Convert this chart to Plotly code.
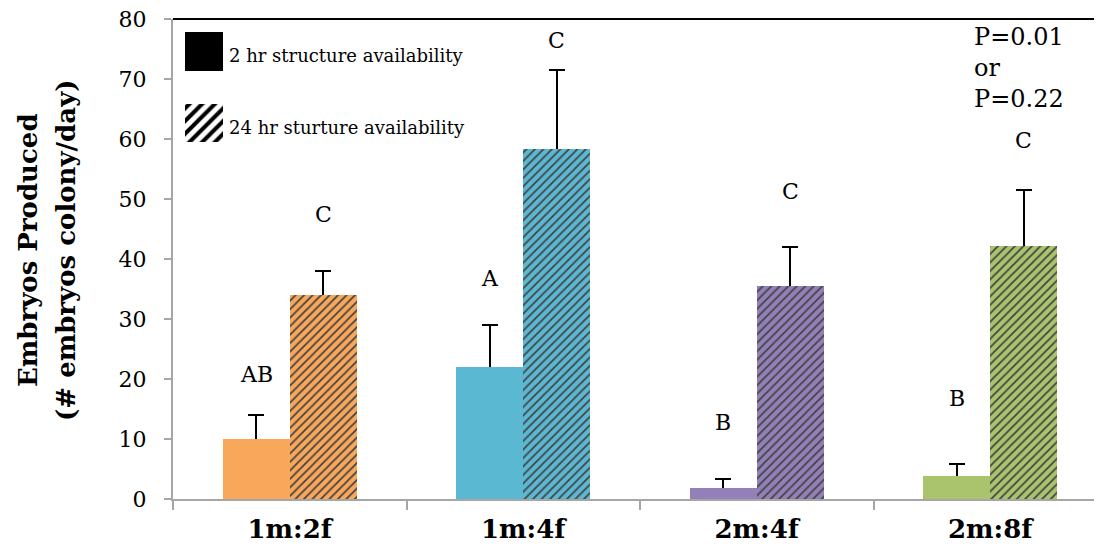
import plotly.graph_objects as go

# ---- data ----
categories = ["1m:2f", "1m:4f", "2m:4f", "2m:8f"]
colors = ["#F9A75A", "#5BB8D2", "#9380B8", "#A9C46C"]
short_vals = [10.0, 22.0, 1.9, 3.8]      # 2 hr structure availability
short_err = [4.0, 7.0, 1.4, 2.0]
long_vals = [34.0, 58.3, 35.5, 42.2]     # 24 hr structure availability
long_err = [4.0, 13.2, 6.5, 9.3]
short_letters = ["AB", "A", "B", "B"]
short_letter_y = [20.7, 36.8, 12.7, 16.7]
long_letters = ["C", "C", "C", "C"]
long_letter_y = [47.5, 76.5, 51.3, 59.7]
y_ticks = [0, 10, 20, 30, 40, 50, 60, 70, 80]
legend_labels = ["2 hr structure availability", "24 hr sturture availability"]
p_text = "P=0.01<br>or<br>P=0.22"

FONT = "DejaVu Serif"
BW = 0.287
OFF = 8  # page offset of the figure inside the browser window

# target pixel geometry (screen coordinates)
PL, PR, PT, PB = 173, 1102, 19, 499
W, H = 1102 - OFF, 554 - OFF


def px_x(px):
    return (px - PL) / (PR - PL)


def px_y(py):
    return (PB - py) / (PB - PT)


fig = go.Figure()

err_style = dict(type="data", symmetric=False, thickness=2, width=8, color="black")

# error bars first (drawn from 0 up to value+err) so the bars cover their lower part
for vals, errs, off in [(short_vals, short_err, -BW), (long_vals, long_err, 0)]:
    fig.add_trace(go.Bar(
        x=categories, y=vals, width=BW, offset=off,
        marker=dict(color="rgba(0,0,0,0)", line=dict(width=0)),
        error_y=dict(array=errs, arrayminus=vals, **err_style),
        showlegend=False, hoverinfo="skip"))

fig.add_trace(go.Bar(
    x=categories, y=short_vals, width=BW, offset=-BW,
    marker=dict(color=colors, line=dict(width=0)),
    showlegend=False, name=legend_labels[0]))

fig.add_trace(go.Bar(
    x=categories, y=long_vals, width=BW, offset=0,
    marker=dict(color=colors, line=dict(width=0),
                pattern=dict(shape="/", fgcolor="black", fgopacity=1, size=6, solidity=0.3,
                             fillmode="overlay")),
    showlegend=False, name=legend_labels[1]))

# legend swatches drawn as bars on a small hidden axis
fig.add_trace(go.Bar(
    x=[0.5], y=[39], base=[71], width=1,
    xaxis="x2", yaxis="y2", showlegend=False, hoverinfo="skip",
    marker=dict(color="black", line=dict(width=0))))
fig.add_trace(go.Bar(
    x=[0.5], y=[38], base=[0], width=1,
    xaxis="x2", yaxis="y2", showlegend=False, hoverinfo="skip",
    marker=dict(color="white", line=dict(width=0),
                pattern=dict(shape="/", fgcolor="black", fgopacity=1, size=9, solidity=0.45,
                             fillmode="overlay"))))

annotations = []
for i in range(4):
    annotations.append(dict(x=i - BW / 2, y=short_letter_y[i], xref="x", yref="y",
                            text=short_letters[i], showarrow=False,
                            font=dict(family=FONT, size=22, color="black")))
    annotations.append(dict(x=i + BW / 2, y=long_letter_y[i], xref="x", yref="y",
                            text=long_letters[i], showarrow=False,
                            font=dict(family=FONT, size=22, color="black")))

# legend labels
for lbl, yy in zip(legend_labels, [56, 128]):
    annotations.append(dict(x=px_x(227), y=px_y(yy), xref="paper", yref="paper", text=lbl,
                            showarrow=False, xanchor="left", yanchor="middle",
                            font=dict(family=FONT, size=18, color="black")))

annotations.append(dict(x=px_x(972), y=px_y(21), xref="paper", yref="paper",
                        text=p_text, showarrow=False, xanchor="left", yanchor="top", align="left",
                        font=dict(family=FONT, size=24, color="black")))

# y-axis title (two lines)
annotations.append(dict(x=0, y=px_y(250), xref="paper", yref="paper", text="<b>Embryos Produced</b>",
                        showarrow=False, textangle=-90, xanchor="center", yanchor="middle",
                        xshift=-(PL - 28), font=dict(family=FONT, size=26, color="black")))
annotations.append(dict(x=0, y=px_y(250), xref="paper", yref="paper", text="<b>(# embryos colony/day)</b>",
                        showarrow=False, textangle=-90, xanchor="center", yanchor="middle",
                        xshift=-(PL - 66), font=dict(family=FONT, size=26, color="black")))

fig.update_layout(
    width=W, height=H,
    margin=dict(l=PL - OFF, r=W - (PR - OFF), t=PT - OFF, b=H - (PB - OFF), autoexpand=False),
    plot_bgcolor="white", paper_bgcolor="white",
    barmode="overlay", bargap=0,
    annotations=annotations,
    xaxis=dict(type="category", range=[-0.5, -0.5 + (PR - PL) / 233.5],
               showline=True, linecolor="#A6A6A6", linewidth=2, automargin=False,
               ticks="outside", tickson="boundaries", ticklen=9, tickcolor="#A6A6A6", tickwidth=2,
               tickfont=dict(family=FONT, size=26, color="black"), ticklabelstandoff=6,
               tickprefix="<b>", ticksuffix="</b>", showgrid=False, zeroline=False),
    yaxis=dict(range=[0, 80], tickvals=y_ticks, automargin=False,
               showline=True, linecolor="#A6A6A6", linewidth=2,
               ticks="outside", ticklen=7, tickcolor="#A6A6A6", tickwidth=2,
               tickfont=dict(family=FONT, size=22, color="black"), ticklabelstandoff=13,
               ticklabeloverflow="allow", showgrid=False, zeroline=False),
    xaxis2=dict(domain=[px_x(185), px_x(223)], range=[0, 1],
                visible=False, anchor="y2"),
    yaxis2=dict(domain=[px_y(142), px_y(32)], range=[0, 110],
                visible=False, anchor="x2"),
    shapes=[dict(type="line", xref="paper", yref="paper", x0=0, x1=1, y0=1, y1=1,
                 line=dict(color="black", width=2))],
)

fig.write_html("out.html")
